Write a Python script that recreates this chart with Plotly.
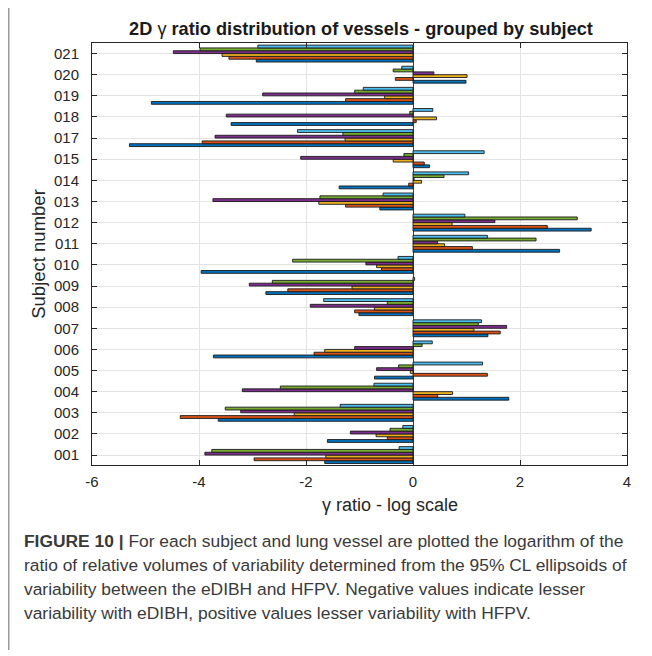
import plotly.graph_objects as go

subjects = ["001", "002", "003", "004", "005", "006", "007", "008", "009", "010",
            "011", "012", "013", "014", "015", "017", "018", "019", "020", "021"]

vessel1 = [-1.65, -1.60, -3.64, 1.79, -0.72, -3.73, 1.40, -1.01, -2.75, -3.96,
           2.74, 3.33, -0.62, -1.38, 0.31, -5.30, -3.40, -4.89, 0.99, -2.93]
vessel2 = [-2.97, -0.48, -4.35, 0.46, 1.39, -1.85, 1.63, -1.09, -2.34, -0.59,
           1.11, 2.51, -1.26, -0.08, 0.21, -3.94, 0.06, -1.26, -0.33, -3.44]
vessel3 = [-1.63, -0.69, -2.22, 0.74, -0.05, -1.65, 1.14, -0.72, -1.14, -0.68,
           0.59, 0.73, -1.76, 0.16, -0.37, -1.27, 0.44, -0.53, 1.01, -3.57]
vessel4 = [-3.89, -1.17, -3.22, -3.19, -0.68, -1.09, 1.75, -1.92, -3.06, -0.88,
           0.46, 1.53, -3.74, 0.02, -2.10, -3.70, -3.49, -2.81, 0.39, -4.48]
vessel5 = [-3.76, -0.43, -3.51, -2.48, -0.27, 0.17, 1.22, -0.48, -2.63, -2.25,
           2.30, 3.07, -1.74, 0.58, -0.17, -1.31, -0.06, -1.09, -0.37, -3.98]
vessel6 = [-0.26, -0.19, -1.36, -0.73, 1.30, 0.36, 1.28, -1.67, 0.03, -0.28,
           1.39, 0.97, -0.56, 1.04, 1.33, -2.16, 0.37, -0.93, -0.21, -2.90]

series = [vessel1, vessel2, vessel3, vessel4, vessel5, vessel6]
colors = ["#0072BD", "#D95319", "#EDB120", "#7E2F8E", "#77AC30", "#4DBEEE"]

x_ticks = [-6, -4, -2, 0, 2, 4]

caption_lines = [
    "<b>FIGURE 10 |</b> For each subject and lung vessel are plotted the logarithm of the",
    "ratio of relative volumes of variability determined from the 95% CL ellipsoids of",
    "variability between the eDIBH and HFPV. Negative values indicate lesser",
    "variability with eDIBH, positive values lesser variability with HFPV.",
]

FONT = "Liberation Sans, Arial, sans-serif"

fig = go.Figure()
for vals, col in zip(series, colors):
    fig.add_trace(go.Bar(
        x=vals, y=subjects, orientation="h",
        marker=dict(color=col, line=dict(color="#1a1a1a", width=0.9)),
        showlegend=False,
    ))

# page body has an 8px margin; figure sized to fit the window
W, H = 644, 648
L, R, T, B = 84, 25, 35, 191
PW, PH = W - L - R, H - T - B

def px_x(p):
    return (p - L) / PW

def px_y(p):
    return (H - B - p) / PH

annotations = []
cap_y0 = 533
for i, line in enumerate(caption_lines):
    annotations.append(dict(
        text=line, xref="paper", yref="paper", x=px_x(14), y=px_y(cap_y0 + i * 24),
        xanchor="left", yanchor="middle", showarrow=False,
        font=dict(family=FONT, size=17.4, color="#3a3a3a"), align="left",
    ))
annotations.append(dict(
    text="γ ratio - log scale", xref="paper", yref="paper",
    x=px_x(382), y=px_y(497), xanchor="center", yanchor="middle",
    showarrow=False, font=dict(family=FONT, size=18, color="#262626"),
))

fig.update_layout(
    width=W, height=H,
    margin=dict(l=L, r=R, t=T, b=B),
    paper_bgcolor="white", plot_bgcolor="white",
    barmode="group", bargap=0.2, bargroupgap=0,
    font=dict(family=FONT, size=15, color="#262626"),
    title=dict(
        text="<b>2D </b>γ<b> ratio distribution of vessels - grouped by subject</b>",
        xref="paper", x=px_x(353), xanchor="center", y=1 - 21 / H, yanchor="middle",
        font=dict(family=FONT, size=18.2, color="#1a1a1a"),
    ),
    xaxis=dict(
        range=[-6, 4], tickvals=x_ticks, ticktext=[str(v) for v in x_ticks],
        showgrid=True, gridcolor="#e3e3e3", gridwidth=1,
        zeroline=True, zerolinecolor="#404040", zerolinewidth=1,
        showline=True, linecolor="#262626", linewidth=1, mirror="ticks",
        ticks="inside", ticklen=5, tickcolor="#262626",
        ticklabelstandoff=3,
        tickfont=dict(size=15),
    ),
    yaxis=dict(
        type="category", categoryorder="array", categoryarray=subjects,
        range=[-0.47, 19.5],
        showgrid=True, gridcolor="#e3e3e3", gridwidth=1,
        showline=True, linecolor="#262626", linewidth=1, mirror="ticks",
        ticks="inside", ticklen=5, tickcolor="#262626",
        ticklabelstandoff=9,
        title=dict(text="Subject number", font=dict(size=18.5), standoff=3),
        tickfont=dict(size=15),
    ),
    annotations=annotations,
    shapes=[dict(
        type="line", xref="paper", yref="paper",
        x0=px_x(0.5), x1=px_x(0.5), y0=px_y(0), y1=px_y(642),
        line=dict(color="#9a9a9a", width=2),
    )],
)

fig.write_html("out.html")
